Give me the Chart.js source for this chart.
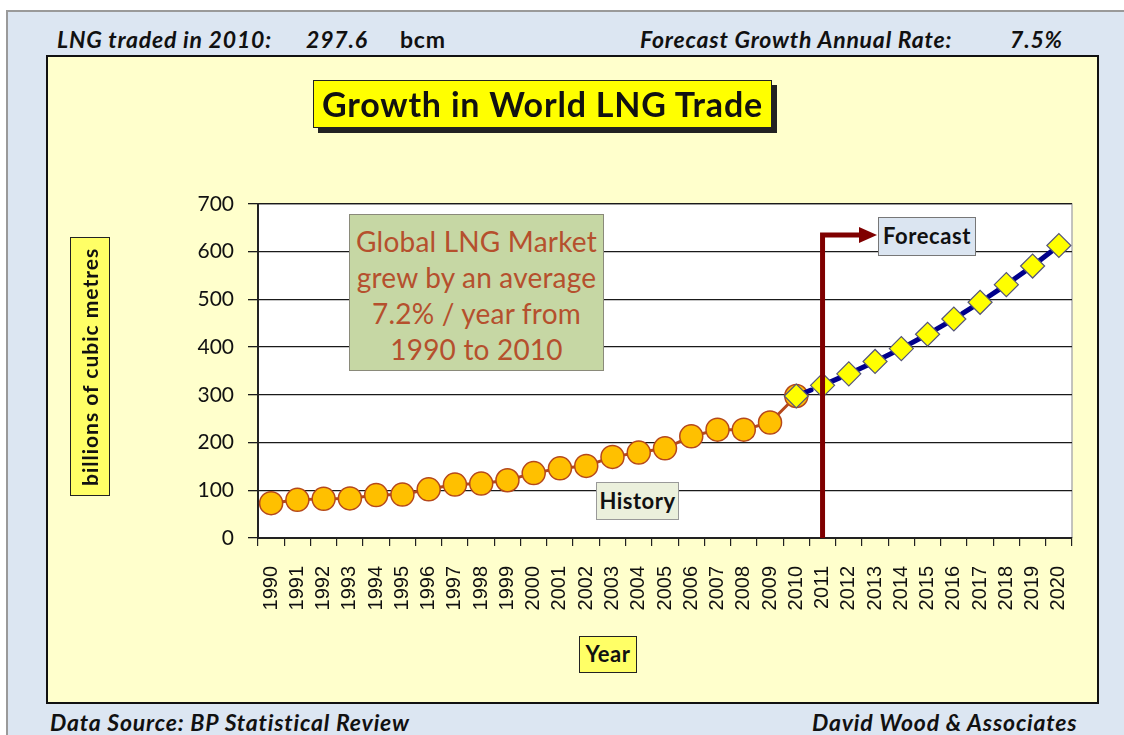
<!DOCTYPE html>
<html>
<head>
<meta charset="utf-8">
<script src="https://cdn.jsdelivr.net/npm/chart.js@4/dist/chart.umd.min.js"></script>
<style>
  html, body { margin: 0; padding: 0; width: 1124px; height: 735px; overflow: hidden; background: #fff; }
  #frame { position: absolute; left: 6px; top: 10px; width: 1120px; height: 727px;
           background: #dce6f2; border-left: 2px solid #9a9a9a; border-top: 2px solid #9a9a9a; }
  #panel { position: absolute; left: 46px; top: 55px; width: 1049px; height: 645px;
           background: #ffffcc; border: 2px solid #111; }
  .hdr { position: absolute; font-family: Lato, "Open Sans", sans-serif; font-weight: bold;
         font-style: italic; font-size: 23px; letter-spacing: 0.8px; color: #111; line-height: 26px; white-space: nowrap; }
  canvas { position: absolute; left: 0; top: 0; }
  .box { position: absolute; box-sizing: border-box; font-family: Lato, sans-serif; text-align: center; white-space: nowrap; }
  #title { left: 313px; top: 80px; width: 459px; height: 48px; background: #ffff00; border: 1.5px solid #222;
           box-shadow: 5px 5px 0 #222; font-weight: bold; font-size: 34px; letter-spacing: 0.8px; line-height: 45px; color: #111; }
  #note { left: 349px; top: 214px; width: 255px; height: 157px; background: #c6d7a4; border: 1.5px solid #8a8a7a;
          color: #b5502d; font-size: 28px; letter-spacing: 0.2px; line-height: 36px; padding-top: 8px; }
  #history { left: 596px; top: 482px; width: 83px; height: 38px; background: #ebf0dc; border: 1.5px solid #999;
             font-weight: bold; font-size: 22px; letter-spacing: 0.5px; line-height: 36px; color: #111; }
  #forecast { left: 878px; top: 217px; width: 98px; height: 39px; background: #dbe5f1; border: 1.5px solid #777;
              font-weight: bold; font-size: 22px; letter-spacing: 0.6px; line-height: 36px; color: #111; }
  #ytitle { left: 70px; top: 237px; width: 40px; height: 259px; background: #ffff66; border: 1.5px solid #222;
            font-weight: bold; font-size: 21px; letter-spacing: 1px; color: #111; writing-mode: vertical-rl;
            transform: rotate(180deg); line-height: 38px; }
  #xtitle { left: 579px; top: 636px; width: 58px; height: 37px; background: #ffff66; border: 1.5px solid #222;
            font-weight: bold; font-size: 22px; letter-spacing: 0.5px; line-height: 34px; color: #111; }
</style>
</head>
<body>
<div id="frame"></div>
<div class="hdr" style="left:57px; top:26px;">LNG traded in 2010:</div>
<div class="hdr" style="left:306px; top:26px;">297.6</div>
<div class="hdr" style="left:400px; top:26px; font-style:normal;">bcm</div>
<div class="hdr" style="left:640px; top:26px;">Forecast Growth Annual Rate:</div>
<div class="hdr" style="left:1010px; top:26px;">7.5%</div>
<div id="panel"></div>
<div class="hdr" style="left:50px; top:709px;">Data Source: BP Statistical Review</div>
<div class="hdr" style="left:812px; top:709px;">David Wood &amp; Associates</div>
<canvas id="chart" width="1124" height="735"></canvas>
<div class="box" id="title">Growth in World LNG Trade</div>
<div class="box" id="note">Global LNG Market<br>grew by an average<br>7.2% / year from<br>1990 to 2010</div>
<div class="box" id="history">History</div>
<div class="box" id="forecast">Forecast</div>
<div class="box" id="ytitle">billions of cubic metres</div>
<div class="box" id="xtitle">Year</div>
<script>
// Years on the x axis
const years = ['1990','1991','1992','1993','1994','1995','1996','1997','1998','1999','2000',
  '2001','2002','2003','2004','2005','2006','2007','2008','2009','2010',
  '2011','2012','2013','2014','2015','2016','2017','2018','2019','2020'];

// LNG trade, bcm (history 1990-2010)
const historyValues = [73, 80, 82, 83, 90, 91, 102, 112, 114, 121, 136,
  146, 151, 170, 179, 188, 213, 227, 227, 242, 297.6];

// Forecast 2010-2020 at 7.5% / year
const forecastYears = ['2010','2011','2012','2013','2014','2015','2016','2017','2018','2019','2020'];
const forecastValues = [297.6, 320, 344, 370, 397, 427, 459, 494, 531, 570, 613];

const yTicks = [0, 100, 200, 300, 400, 500, 600, 700];
const arrowLevel = 635; // height of the forecast arrow, bcm

const historyData = years.map((y) => {
  const i = years.indexOf(y);
  return i < historyValues.length ? historyValues[i] : null;
});
const forecastData = years.map((y) => {
  const i = forecastYears.indexOf(y);
  return i >= 0 ? forecastValues[i] : null;
});

// white plot area + light right/top border
const plotBg = {
  id: 'plotBg',
  beforeDraw(chart) {
    const { ctx, chartArea: a } = chart;
    ctx.save();
    ctx.fillStyle = '#ffffff';
    ctx.fillRect(a.left, a.top, a.right - a.left, a.bottom - a.top);
    ctx.strokeStyle = '#b0b0b0';
    ctx.lineWidth = 1.5;
    ctx.beginPath();
    ctx.moveTo(a.left, a.top);
    ctx.lineTo(a.right, a.top);
    ctx.lineTo(a.right, a.bottom);
    ctx.stroke();
    ctx.restore();
  }
};

// dark red arrow marking the start of the forecast
const forecastArrow = {
  id: 'forecastArrow',
  afterDatasetsDraw(chart) {
    const { ctx, chartArea: a, scales } = chart;
    const x = scales.x.getPixelForValue(years.indexOf('2011'));
    const yTop = scales.y.getPixelForValue(arrowLevel);
    const tipX = document.getElementById('forecast').offsetLeft - 1;
    ctx.save();
    ctx.strokeStyle = '#7f0000';
    ctx.fillStyle = '#7f0000';
    ctx.lineWidth = 5;
    ctx.beginPath();
    ctx.moveTo(x, a.bottom);
    ctx.lineTo(x, yTop);
    ctx.lineTo(tipX - 16, yTop);
    ctx.stroke();
    ctx.beginPath();
    ctx.moveTo(tipX, yTop);
    ctx.lineTo(tipX - 18, yTop - 8);
    ctx.lineTo(tipX - 18, yTop + 8);
    ctx.closePath();
    ctx.fill();
    ctx.restore();
  }
};

new Chart(document.getElementById('chart'), {
  type: 'line',
  data: {
    labels: years,
    datasets: [
      {
        label: 'History',
        data: historyData,
        order: 2,
        borderColor: '#b5481c',
        borderWidth: 3,
        pointStyle: 'circle',
        pointRadius: 11.5,
        pointBackgroundColor: '#ffc000',
        pointBorderColor: '#b5481c',
        pointBorderWidth: 1.5,
        tension: 0
      },
      {
        label: 'Forecast',
        data: forecastData,
        order: 1,
        borderColor: '#00008b',
        borderWidth: 5,
        borderDash: [16, 7, 1, 7],
        borderCapStyle: 'round',
        pointStyle: 'rectRot',
        pointRadius: 12,
        pointBackgroundColor: '#ffff00',
        pointBorderColor: '#55557a',
        pointBorderWidth: 1.2,
        tension: 0
      }
    ]
  },
  options: {
    responsive: false,
    animation: false,
    devicePixelRatio: 1,
    clip: false,
    layout: { padding: { top: 204, right: 52, bottom: 0, left: 0 } },
    plugins: {
      legend: { display: false },
      tooltip: { enabled: false }
    },
    scales: {
      x: {
        offset: true,
        afterFit(scale) { scale.height = 197; },
        grid: {
          offset: true,
          drawOnChartArea: false,
          drawTicks: true,
          tickLength: 8,
          color: '#222',
          lineWidth: 1.2
        },
        border: { display: true, color: '#222', width: 2 },
        ticks: {
          autoSkip: false,
          minRotation: 90,
          maxRotation: 90,
          padding: 20,
          color: '#111',
          font: { family: '"Liberation Sans", Arial, sans-serif', size: 20 }
        }
      },
      y: {
        min: 0,
        max: 700,
        afterFit(scale) { scale.width = 258; },
        afterBuildTicks(scale) { scale.ticks = yTicks.map((v) => ({ value: v })); },
        grid: {
          color: '#1a1a1a',
          lineWidth: 1.3,
          tickLength: 10,
          drawTicks: true
        },
        border: { display: true, color: '#222', width: 2 },
        ticks: {
          padding: 14,
          color: '#111',
          font: { family: 'Lato, sans-serif', size: 21 }
        }
      }
    }
  },
  plugins: [plotBg, forecastArrow]
});
</script>
</body>
</html>
